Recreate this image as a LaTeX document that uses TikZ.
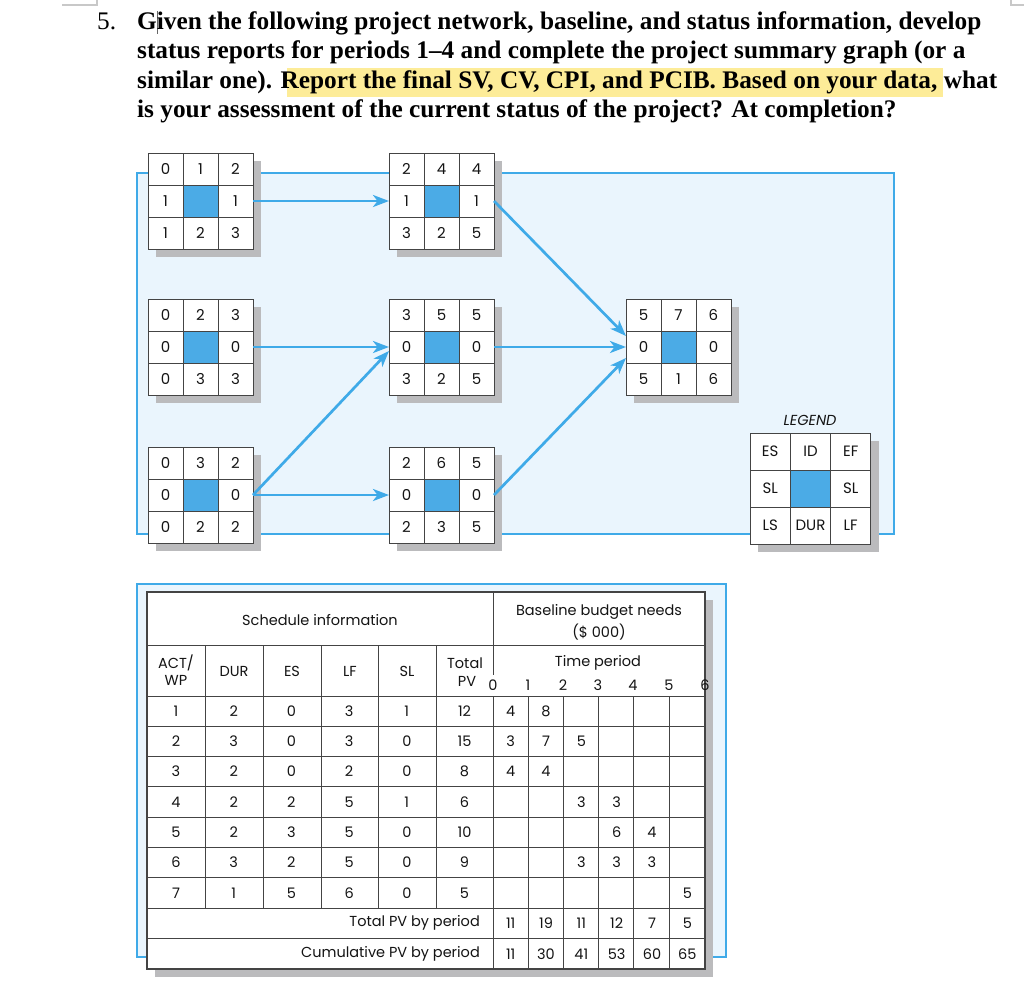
\documentclass[tikz,border=0pt]{standalone}
\usepackage{fontspec}
\setmainfont{Liberation Serif}
\newfontfamily\dfont{Poppins}
\usetikzlibrary{arrows.meta}
\definecolor{netblue}{HTML}{3FAAE8}
\definecolor{bgblue}{HTML}{EAF5FD}
\definecolor{cellblue}{HTML}{4BABE6}
\definecolor{shadowgray}{HTML}{BBBBBD}
\definecolor{griddark}{HTML}{444444}
\definecolor{hilite}{HTML}{FDEC98}
\definecolor{cornergray}{HTML}{C8C8C8}
\newcommand\titlefont{\fontsize{25.3}{29}\selectfont}
\newcommand\cellw{35}
\newcommand\cellh{32}
\newcommand\txtcursor{\makebox[0pt]{\textcolor{black!60}{\rule[-4pt]{0.7pt}{23pt}}}}
\tikzset{
  conn/.style={draw=netblue, line width=2.7pt, -{Stealth[length=16pt,width=12pt,inset=4.5pt]}},
  gridl/.style={draw=griddark, line width=1pt},
  actframe/.style={fill=white, draw=griddark, line width=1pt, inner sep=0pt, outer sep=0pt},
  num/.style={font=\dfont\fontsize{15}{16}\selectfont, inner sep=0pt, text=black!92},
  tabtxt/.style={font=\dfont\fontsize{14.5}{17}\selectfont, inner sep=0pt, text=black!92},
  titletxt/.style={anchor=base west, inner sep=0pt, font=\titlefont\bfseries},
  bluepanel/.style={fill=bgblue, draw=netblue, line width=1.6pt}
}
\newcommand\actbox[6]{%
  \fill[shadowgray] ({#2+8},{#3+8}) rectangle ({#2+3*\cellw+8},{#3+3*\cellh+8});
  \node[actframe, minimum width={3*\cellw*1pt}, minimum height={3*\cellh*1pt}, anchor=north west] (#1) at (#2,#3) {};
  \fill[cellblue] ({#2+\cellw},{#3+\cellh}) rectangle ({#2+2*\cellw},{#3+2*\cellh});
  \draw[gridl] ({#2+\cellw},#3) -- ({#2+\cellw},{#3+3*\cellh})
               ({#2+2*\cellw},#3) -- ({#2+2*\cellw},{#3+3*\cellh})
               (#2,{#3+\cellh}) -- ({#2+3*\cellw},{#3+\cellh})
               (#2,{#3+2*\cellh}) -- ({#2+3*\cellw},{#3+2*\cellh});
  \draw[gridl] (#1.north west) rectangle (#1.south east);
  \foreach \v [count=\i from 0] in {#4} \node[num] at ({#2+(\i+0.5)*\cellw},{#3+0.5*\cellh}) {\v};
  \foreach \v [count=\i from 0] in {#5} \node[num] at ({#2+(2*\i+0.5)*\cellw},{#3+1.5*\cellh}) {\v};
  \foreach \v [count=\i from 0] in {#6} \node[num] at ({#2+(\i+0.5)*\cellw},{#3+2.5*\cellh}) {\v};
}
\begin{document}
\begin{tikzpicture}[x=1pt,y=-1pt]
\useasboundingbox[fill=white] (0,0) rectangle (1024,982);
% page corner marks
\draw[cornergray, line width=2pt] (62,5) -- (97,5) -- (97,0);
\draw[cornergray, line width=2pt] (1011,0) -- (1011,5) -- (1024,5);
% title
\fill[hilite] (287,68) rectangle (943,97);
\node[anchor=base west, inner sep=0pt, font=\titlefont] (qnum) at (97,30) {5.};
\node[titletxt] (t1) at (137,30) {G\txtcursor iven the following project network, baseline, and status information, develop};
\node[titletxt] (t2) at (137,59) {status reports for periods 1--4 and complete the project summary graph (or a};
\node[titletxt] (t3) at (137,88) {similar one). Report the final SV, CV, CPI, and PCIB. Based on your data, what};
\node[titletxt] (t4) at (137,117) {is your assessment of the current status of the project? At completion?};
% network panel
\path[bluepanel] (137,173) rectangle (894,534);
\actbox{n1}{148}{153}{0,1,2}{1,1}{1,2,3}
\actbox{n2}{389}{153}{2,4,4}{1,1}{3,2,5}
\actbox{n3}{148}{299}{0,2,3}{0,0}{0,3,3}
\actbox{n5}{389}{299}{3,5,5}{0,0}{3,2,5}
\actbox{n4}{148}{447}{0,3,2}{0,0}{0,2,2}
\actbox{n6}{389}{447}{2,6,5}{0,0}{2,3,5}
\actbox{n7}{626}{299}{5,7,6}{0,0}{5,1,6}
\renewcommand\cellw{40.3}
\renewcommand\cellh{37}
\actbox{lg}{750}{433}{ES,ID,EF}{SL,SL}{LS,DUR,LF}
\node[num, font=\dfont\itshape\fontsize{14.5}{16}\selectfont] (lgt) at (810,420) {LEGEND};
% connectors
\draw[conn] (n1.east) -- (n2.west);
\draw[conn] (n3.east) -- (n5.west);
\draw[conn] (n4.east) -- (n6.west);
\draw[conn] (n4.east) -- ([yshift=-4pt]n5.west);
\draw[conn] (n2.east) -- ([yshift=11pt]n7.west);
\draw[conn] (n5.east) -- (n7.west);
\draw[conn] (n6.east) -- ([yshift=-11pt]n7.west);
% table panel
\path[bluepanel] (137,584) rectangle (726,957);
\fill[shadowgray] (155,600) rectangle (713,977);
\node[fill=white, draw=griddark, line width=1.8pt, inner sep=0pt, outer sep=0pt, minimum width=558pt, minimum height=377pt, anchor=north west] (tab) at (147,592) {};
\begin{scope}[gridl]
  \draw (147,645) -- (705,645);
  \draw (147,696) -- (705,696);
  \draw (493,592) -- (493,675);
  \draw (493,696) -- (493,969);
  \foreach \x in {205,263,321,378,436} \draw (\x,645) -- (\x,908);
  \foreach \x in {528,563,598,633,669} \draw (\x,696) -- (\x,969);
  \foreach \k in {1,...,8} \draw (147,{696+30.3*\k}) -- (705,{696+30.3*\k});
\end{scope}
\draw[griddark, line width=1.8pt] (tab.north west) rectangle (tab.south east);
% header text
\node[tabtxt] (hsched) at (320,620) {Schedule information};
\node[tabtxt] (hbase1) at (599,612) {Baseline budget needs};
\node[tabtxt] (hbase2) at (599,632) {(\$ 000)};
\node[tabtxt] (hact1) at (176,663) {ACT/};
\node[tabtxt] (hact2) at (176,680) {WP};
\node[tabtxt] (hdur) at (234,671) {DUR};
\node[tabtxt] (hes) at (292,671) {ES};
\node[tabtxt] (hlf) at (350,671) {LF};
\node[tabtxt] (hsl) at (407,671) {SL};
\node[tabtxt] (htot1) at (465,663) {Total};
\node[tabtxt] (htot2) at (467,681) {PV};
\node[tabtxt] (htime) at (598,663) {Time period};
\foreach \t [count=\i from 0] in {493,528,563,598,633,669,705}
  \node[tabtxt] at (\t,685) {\i};
% body
\foreach \r/\a/\b/\c/\d/\e [count=\j from 0] in {1/2/0/3/1/12,2/3/0/3/0/15,3/2/0/2/0/8,4/2/2/5/1/6,5/2/3/5/0/10,6/3/2/5/0/9,7/1/5/6/0/5} {
  \foreach \v [count=\i from 0] in {\r,\a,\b,\c,\d,\e}
    \node[tabtxt] at ({176+57.7*\i},{711+30.3*\j}) {\v};
}
\foreach \rr/\p/\v in {0/1/4,0/2/8,1/1/3,1/2/7,1/3/5,2/1/4,2/2/4,3/3/3,3/4/3,4/4/6,4/5/4,5/3/3,5/4/3,5/5/3,6/6/5}
  \node[tabtxt] at ({493+35.33*(\p-0.5)},{711+30.3*\rr}) {\v};
\node[tabtxt, anchor=east] (ltot) at (480,923) {Total PV by period};
\node[tabtxt, anchor=east] (lcum) at (480,954) {Cumulative PV by period};
\foreach \v [count=\p] in {11,19,11,12,7,5}
  \node[tabtxt] at ({493+35.33*(\p-0.5)},923) {\v};
\foreach \v [count=\p] in {11,30,41,53,60,65}
  \node[tabtxt] at ({493+35.33*(\p-0.5)},954) {\v};
\end{tikzpicture}
\end{document}
